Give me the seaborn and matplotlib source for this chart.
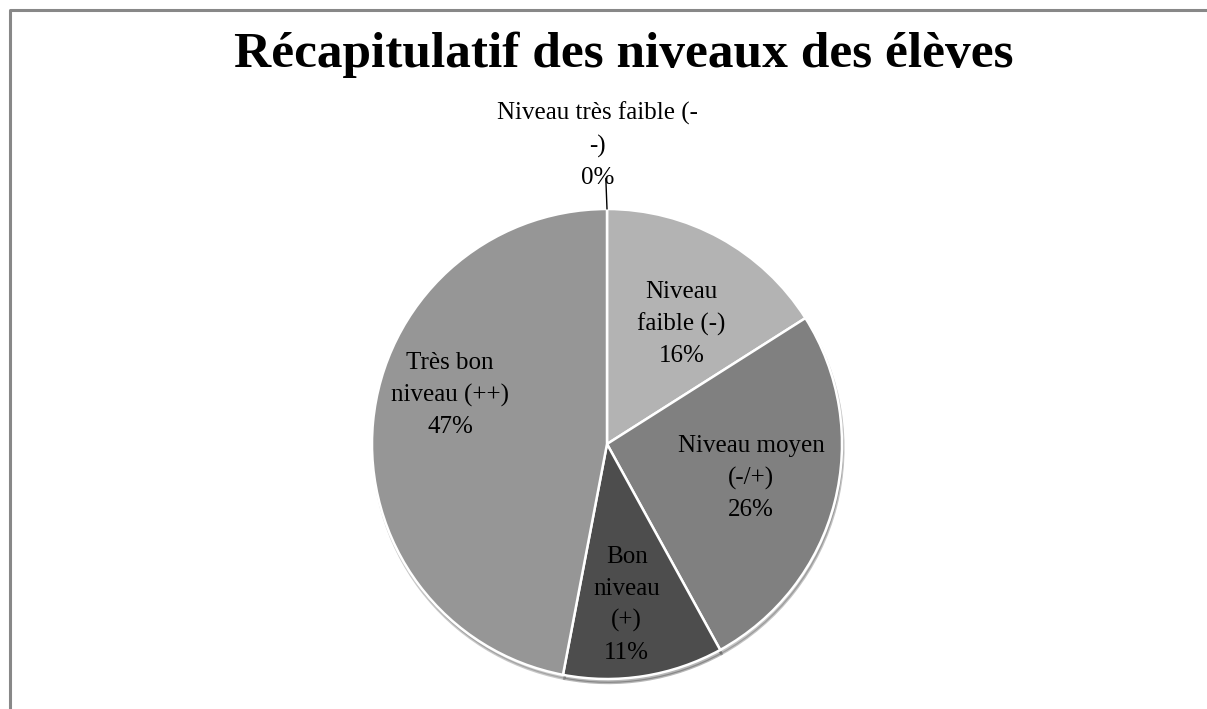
import matplotlib
matplotlib.use("Agg")
import matplotlib.pyplot as plt
import seaborn as sns
import numpy as np

# data
niveaux = ["Niveau très faible (-\n-)", "Niveau\nfaible (-)", "Niveau moyen\n(-/+)",
           "Bon\nniveau\n(+)", "Très bon\nniveau (++)"]
pourcentages = [0, 16, 26, 11, 47]
couleurs = ["#c8c8c8", "#b3b3b3", "#808080", "#4d4d4d", "#969696"]

# label placement (fraction of radius, angle tweak in degrees)
dist_labels = [1.0, 0.6, 0.63, 0.69, 0.70]
decal_labels = [0, 3, -1, 2, 12]

sns.set_style("white")
plt.rcParams["font.family"] = ["Liberation Serif", "DejaVu Serif"]
plt.rcParams["text.color"] = "black"

fig = plt.figure(figsize=(12.07, 7.09), dpi=100)
ax = fig.add_axes([0, 0, 1, 1])
ax.set_xlim(0, 1207)
ax.set_ylim(709, 0)
ax.axis("off")

# frame of the chart area (cropped on the right and bottom)
ax.plot([10, 10, 1215], [720, 10, 10], color="#888888", lw=2.2, solid_capstyle="butt")

# pie
cx, cy, r = 607, 444, 235
pax = fig.add_axes([(cx - r) / 1207, (709 - cy - r) / 709, 2 * r / 1207, 2 * r / 709])
wedges, _ = pax.pie(pourcentages, colors=couleurs, startangle=90, counterclock=False,
                    wedgeprops=dict(edgecolor="white", linewidth=1.8),
                    shadow=dict(ox=0.004, oy=-0.012, shade=0.35, alpha=0.35))
pax.set_aspect("equal")
pax.set_xlim(-1, 1)
pax.set_ylim(-1, 1)

# labels inside slices
total = sum(pourcentages)
debut = 0
for nom, val, d, dec in zip(niveaux, pourcentages, dist_labels, decal_labels):
    mid = (debut + val / 2) / total * 2 * np.pi + np.radians(dec)
    debut += val
    texte = f"{nom}\n{val}%"
    if val == 0:
        pax.plot([0, -0.005], [1.0, 1.13], color="black", lw=1, clip_on=False)
        pax.text(-0.04, 1.27, texte, ha="center", va="center", fontsize=18,
                 linespacing=1.55, clip_on=False)
        continue
    x, y = d * np.sin(mid), d * np.cos(mid)
    pax.text(x, y, texte, ha="center", va="center", fontsize=18, linespacing=1.55)

ax.text(624, 55, "Récapitulatif des niveaux des élèves", ha="center", va="center",
        fontsize=37, fontweight="bold")

fig.savefig("out.png", dpi=100)
